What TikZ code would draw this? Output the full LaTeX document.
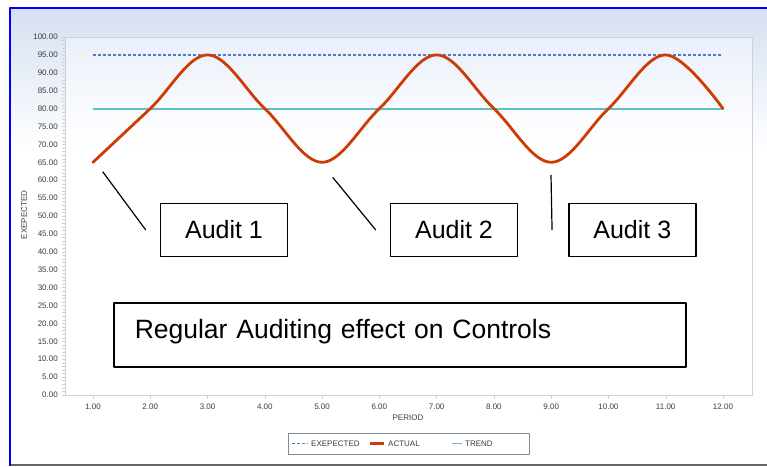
\documentclass[tikz,border=0pt]{standalone}
\usepackage{fontspec}
\setmainfont{Liberation Sans}
\definecolor{expblue}{RGB}{80,118,210}
\definecolor{actred}{RGB}{205,60,5}
\definecolor{trendcyan}{RGB}{95,190,200}
\definecolor{bgtop}{RGB}{214,224,241}
\definecolor{plottop}{RGB}{234,239,249}
\definecolor{axisgray}{RGB}{205,210,218}
\definecolor{labgray}{RGB}{60,60,60}
\definecolor{legendgray}{RGB}{130,140,155}
\begin{document}
\begin{tikzpicture}[x=1pt,y=-1pt,line join=round,
    ticklab/.style={font=\fontsize{8}{9}\selectfont,text=labgray,inner sep=0pt},
    auditbox/.style={draw,line width=1.5pt,minimum width=127pt,minimum height=53pt,inner sep=0pt,font=\fontsize{25}{30}\selectfont},
    notebox/.style={draw,line width=1.5pt,anchor=north west,text width=530pt,align=left,minimum height=64pt,inner xsep=21pt,inner ysep=0pt,text depth=11pt,font=\fontsize{26.5}{30}\selectfont}]
    \useasboundingbox (0,0) rectangle (767,466);
    % frame and background
    \shade[top color=bgtop,bottom color=white] (11,9) rectangle (767,150);
    \shade[top color=plottop,bottom color=white] (65,37) rectangle (752,140);
    \draw[axisgray] (65,37) rectangle (752,395);
    \draw[blue,line width=2pt] (10.3,466)--(10.3,7.7)--(767,7.7);
    \draw[gray!80!black,line width=1.2pt] (11,465)--(767,465);
    % axes, ticks and data
    \begin{scope}[shift={(35.73,395)},x=57.27pt,y=3.58pt]
        \foreach \v in {0,...,100}\draw[axisgray] (0.511,\v)--++(-2.5pt,0);
        \foreach \v in {0,5,...,100}\path (0.511,\v)++(-7pt,0) node[ticklab,left] (y\v) {\v.00};
        \foreach \i in {1,...,12}{
            \draw[axisgray] (\i,0)--++(0,-4pt);
            \path (\i,0)++(0,-12pt) node[ticklab] (x\i) {\i.00};}
        \path (6.5,0)++(0,-23pt) node[ticklab] (xtitle) {PERIOD};
        \draw[expblue,line width=1.5pt,dash pattern=on 3pt off 2pt] (1,95)--(12,95);
        \draw[trendcyan,line width=1.8pt] (1,80)--(12,80);
        \draw[actred,line width=2.8pt,line cap=round] plot[smooth,tension=.6] coordinates{(1,65) (2,80) (3,95) (4,80) (5,65) (6,80) (7,95) (8,80) (9,65) (10,80) (11,95) (12,80)};
    \end{scope}
    \node[ticklab,rotate=90] (ytitle) at (24,215) {EXEPECTED};
    % legend
    \draw[legendgray] (288,433) rectangle (529,454);
    \draw[expblue,line width=1.5pt,dash pattern=on 3pt off 2pt] (292,443.5)--(308,443.5);
    \node[ticklab,anchor=west] (legexp) at (311,443.5) {EXEPECTED};
    \draw[actred,line width=2.8pt] (370,443.5)--(384,443.5);
    \node[ticklab,anchor=west] (legact) at (388,443.5) {ACTUAL};
    \draw[trendcyan,line width=1.8pt] (452,443.5)--(462,443.5);
    \node[ticklab,anchor=west] (legtrend) at (465,443.5) {TREND};
    % audit call-outs
    \node[auditbox] (audit1) at (224,230) {Audit 1};
    \node[auditbox] (audit2) at (454,230) {Audit 2};
    \node[auditbox] (audit3) at (632.3,230) {Audit 3};
    \coordinate (dip1) at (102.7,171.7);
    \coordinate (dip2) at (332.7,177.3);
    \coordinate (dip3) at (551,175);
    \draw[line width=1.2pt] (dip1)--([xshift=-14pt]audit1.west);
    \draw[line width=1.2pt] (dip2)--([xshift=-14pt]audit2.west);
    \draw[line width=1.2pt] (dip3)--([xshift=-16pt]audit3.west);
    \node[notebox] (note) at (113,302) {Regular Auditing effect on Controls};
\end{tikzpicture}
\end{document}
